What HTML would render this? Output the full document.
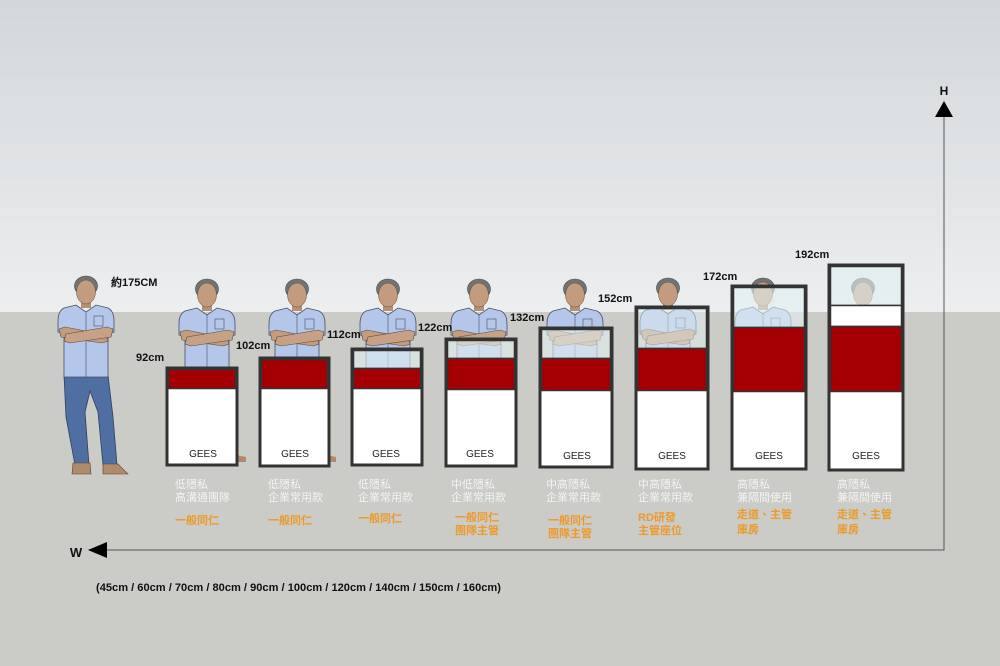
<!DOCTYPE html>
<html><head><meta charset="utf-8"><style>
html,body{margin:0;padding:0;background:#cbcbc7;}
svg{display:block;}
.dim{font-family:"Liberation Sans",sans-serif;font-weight:bold;font-size:11px;fill:#111;}
.gees{font-family:"Liberation Sans",sans-serif;font-size:10px;fill:#222;text-anchor:middle;}
.g{font-family:"Liberation Sans","Noto Sans CJK TC",sans-serif;font-size:11px;fill:#f3f3f3;}
.o{font-family:"Liberation Sans","Noto Sans CJK TC",sans-serif;font-size:11px;font-weight:bold;fill:#ec9a2a;}
</style></head><body>
<svg width="1000" height="666" viewBox="0 0 1000 666" xmlns="http://www.w3.org/2000/svg">
<defs>
<linearGradient id="sky" x1="0" y1="0" x2="0" y2="1">
<stop offset="0" stop-color="#d3d7da"/><stop offset="1" stop-color="#eceeef"/>
</linearGradient>
<g id="upper">
<ellipse cx="0" cy="9" rx="11.5" ry="10" fill="#737373" stroke="#444" stroke-width="0.6"/>
<rect x="-5" y="22" width="10" height="9" fill="#b98f74"/>
<ellipse cx="0" cy="15" rx="9.5" ry="12" fill="#c39c80" stroke="#5a4a40" stroke-width="0.5"/>
<path d="M-10 28 L-22 31 Q-28 34 -28 44 L-28 55 L-22 56 L-22 100 L22 100 L22 56 L28 55 L28 44 Q28 34 22 31 L10 28 L0 35 Z" fill="#b4c6ea" stroke="#4a5068" stroke-width="0.8"/>
<line x1="0" y1="35" x2="0" y2="100" stroke="#4a5068" stroke-width="0.6"/>
<rect x="8" y="39" width="9" height="10" fill="none" stroke="#4a5068" stroke-width="0.6"/>
<path d="M-27 52 L-21 50 L20 58 L22 64 L16 66 L-25 60 Z" fill="#c39c80" stroke="#5a4a40" stroke-width="0.6"/>
<path d="M27 52 L21 50 L-20 57 L-22 64 L-16 66 L25 60 Z" fill="#c7a186" stroke="#5a4a40" stroke-width="0.6"/>
</g>
</defs>

<rect x="0" y="0" width="1000" height="312" fill="url(#sky)"/>
<rect x="0" y="312" width="1000" height="354" fill="#cbcbc7"/>

<!-- standing man -->
<g transform="translate(86,277)">
<path d="M-22 98 L22 98 L27 140 L31 188 L17 188 L12 135 L4 114 L-1 135 L3 188 L-11 188 L-20 140 Z" fill="#4f6fa3" stroke="#2f3f5e" stroke-width="0.8"/>
<path d="M-13 186 L4 186 L5 197 L-14 197 Z" fill="#b08a6a" stroke="#5a4030" stroke-width="0.6"/>
<path d="M17 187 L32 187 L42 197 L17 197 Z" fill="#b08a6a" stroke="#5a4030" stroke-width="0.6"/>
<use href="#upper"/>
</g>

<!-- people behind panels -->
<use href="#upper" transform="translate(207,280)"/>
<use href="#upper" transform="translate(297,280)"/>
<use href="#upper" transform="translate(388,280)"/>
<use href="#upper" transform="translate(479,280)"/>
<use href="#upper" transform="translate(575,280)"/>
<use href="#upper" transform="translate(668,279)"/>
<use href="#upper" transform="translate(763,279)"/>
<use href="#upper" transform="translate(863,279)"/>
<path d="M236 455 L246 457 L246 462 L236 462 Z" fill="#b08a6a"/>
<path d="M327 455 L336 457 L336 462 L327 462 Z" fill="#b08a6a"/>

<!-- panels -->
<g stroke="#333">
<!-- 1 -->
<rect x="167" y="388" width="70" height="77" fill="#fff" stroke="none"/>
<rect x="168.5" y="369.5" width="67" height="19" fill="#a40004" stroke-width="1.5"/>
<rect x="167" y="368" width="70" height="97" fill="none" stroke-width="3"/>
<!-- 2 -->
<rect x="260" y="388" width="69" height="78" fill="#fff" stroke="none"/>
<rect x="261.5" y="359.5" width="66" height="29" fill="#a40004" stroke-width="1.5"/>
<rect x="260" y="358" width="69" height="108" fill="none" stroke-width="3"/>
<!-- 3 -->
<rect x="352" y="388" width="70" height="77" fill="#fff" stroke="none"/>
<rect x="353.5" y="350.5" width="67" height="18" fill="#e2f0f0" fill-opacity="0.6" stroke-width="1.5"/>
<rect x="353.5" y="368.5" width="67" height="20" fill="#a40004" stroke-width="1.5"/>
<rect x="352" y="349" width="70" height="116" fill="none" stroke-width="3"/>
<!-- 4 -->
<rect x="446" y="389" width="70" height="77" fill="#fff" stroke="none"/>
<rect x="447.5" y="340.5" width="67" height="18" fill="#e2f0f0" fill-opacity="0.6" stroke-width="1.5"/>
<rect x="447.5" y="358.5" width="67" height="31" fill="#a40004" stroke-width="1.5"/>
<rect x="446" y="339" width="70" height="127" fill="none" stroke-width="3"/>
<!-- 5 -->
<rect x="540" y="390" width="72" height="77" fill="#fff" stroke="none"/>
<rect x="541.5" y="329.5" width="69" height="29" fill="#e2f0f0" fill-opacity="0.6" stroke-width="1.5"/>
<rect x="541.5" y="358.5" width="69" height="32" fill="#a40004" stroke-width="1.5"/>
<rect x="540" y="328" width="72" height="139" fill="none" stroke-width="3"/>
<!-- 6 -->
<rect x="636" y="390" width="72" height="79" fill="#fff" stroke="none"/>
<rect x="637.5" y="308.5" width="69" height="40" fill="#e2f0f0" fill-opacity="0.5" stroke-width="1.5"/>
<rect x="637.5" y="348.5" width="69" height="42" fill="#a40004" stroke-width="1.5"/>
<rect x="636" y="307" width="72" height="162" fill="none" stroke-width="3"/>
<!-- 7 -->
<rect x="732" y="391" width="74" height="78" fill="#fff" stroke="none"/>
<rect x="733.5" y="287.5" width="71" height="40" fill="#e2f0f0" fill-opacity="0.62" stroke-width="1.5"/>
<rect x="733.5" y="327.5" width="71" height="64" fill="#a40004" stroke-width="1.5"/>
<rect x="732" y="286" width="74" height="183" fill="none" stroke-width="3"/>
<!-- 8 -->
<rect x="829" y="391" width="74" height="79" fill="#fff" stroke="none"/>
<rect x="830.5" y="266.5" width="71" height="39" fill="#e2f0f0" fill-opacity="0.62" stroke-width="1.5"/>
<rect x="830.5" y="305.5" width="71" height="21" fill="#fff" stroke-width="1.5"/>
<rect x="830.5" y="326.5" width="71" height="65" fill="#a40004" stroke-width="1.5"/>
<rect x="829" y="265" width="74" height="205" fill="none" stroke-width="3"/>
</g>

<text class="gees" x="203" y="457">GEES</text>
<text class="gees" x="295" y="457">GEES</text>
<text class="gees" x="386" y="457">GEES</text>
<text class="gees" x="480" y="457">GEES</text>
<text class="gees" x="577" y="459">GEES</text>
<text class="gees" x="672" y="459">GEES</text>
<text class="gees" x="769" y="459">GEES</text>
<text class="gees" x="866" y="459">GEES</text>

<!-- dimension labels -->
<text class="dim" x="111" y="286">約175CM</text>
<text class="dim" x="136" y="361">92cm</text>
<text class="dim" x="236" y="349">102cm</text>
<text class="dim" x="327" y="338">112cm</text>
<text class="dim" x="418" y="331">122cm</text>
<text class="dim" x="510" y="321">132cm</text>
<text class="dim" x="598" y="302">152cm</text>
<text class="dim" x="703" y="280">172cm</text>
<text class="dim" x="795" y="258">192cm</text>

<!-- column labels -->
<text class="g" x="175" y="488">低隱私</text><text class="g" x="175" y="501">高溝通團隊</text>
<text class="o" x="175" y="524">一般同仁</text>
<text class="g" x="268" y="488">低隱私</text><text class="g" x="268" y="501">企業常用款</text>
<text class="o" x="268" y="524">一般同仁</text>
<text class="g" x="358" y="488">低隱私</text><text class="g" x="358" y="501">企業常用款</text>
<text class="o" x="358" y="522">一般同仁</text>
<text class="g" x="451" y="488">中低隱私</text><text class="g" x="451" y="501">企業常用款</text>
<text class="o" x="455" y="521">一般同仁</text><text class="o" x="455" y="534">團隊主管</text>
<text class="g" x="546" y="488">中高隱私</text><text class="g" x="546" y="501">企業常用款</text>
<text class="o" x="548" y="524">一般同仁</text><text class="o" x="548" y="537">團隊主管</text>
<text class="g" x="638" y="488">中高隱私</text><text class="g" x="638" y="501">企業常用款</text>
<text class="o" x="638" y="521">RD研發</text><text class="o" x="638" y="534">主管座位</text>
<text class="g" x="737" y="488">高隱私</text><text class="g" x="737" y="501">兼隔間使用</text>
<text class="o" x="737" y="518">走道、主管</text><text class="o" x="737" y="533">庫房</text>
<text class="g" x="837" y="488">高隱私</text><text class="g" x="837" y="501">兼隔間使用</text>
<text class="o" x="837" y="518">走道、主管</text><text class="o" x="837" y="533">庫房</text>

<!-- axes -->
<line x1="944" y1="116" x2="944" y2="550" stroke="#555" stroke-width="1"/>
<line x1="106" y1="550" x2="944.5" y2="550" stroke="#555" stroke-width="1"/>
<polygon points="944,101 953,117 935,117" fill="#000"/>
<polygon points="88,550 107,542 107,558" fill="#000"/>
<text class="dim" x="944" y="95" text-anchor="middle" style="font-size:12px">H</text>
<text class="dim" x="76" y="557" text-anchor="middle" style="font-size:13px">W</text>

<text class="dim" x="96" y="591" textLength="405" lengthAdjust="spacingAndGlyphs">(45cm / 60cm / 70cm / 80cm / 90cm / 100cm / 120cm / 140cm / 150cm / 160cm)</text>
</svg>
</body></html>
